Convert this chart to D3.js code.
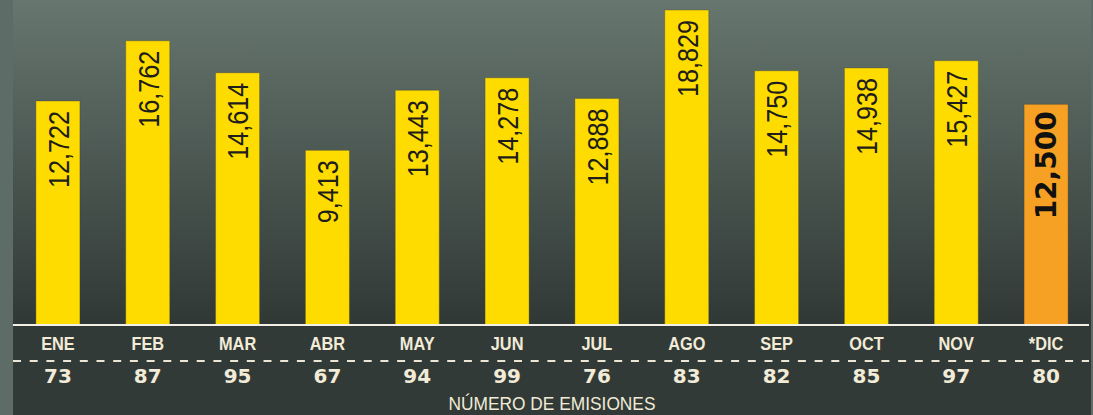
<!DOCTYPE html>
<html><head><meta charset="utf-8">
<script src="https://cdn.jsdelivr.net/npm/d3@7"></script>
<style>html,body{margin:0;padding:0;background:#5e6c67;}svg{display:block;}</style>
</head><body>
<svg id="chart" width="1093" height="415"></svg>
<script>
const months = ["ENE","FEB","MAR","ABR","MAY","JUN","JUL","AGO","SEP","OCT","NOV","*DIC"];
const emisiones = [12722,16762,14614,9413,13443,14278,12888,18829,14750,14938,15427,12500];
const numeroEmisiones = [73,87,95,67,94,99,76,83,82,85,97,80];
const estimado = [false,false,false,false,false,false,false,false,false,false,false,true];
const axisTitle = "NÚMERO DE EMISIONES";

const W = 1093, H = 415;
const left = 13, right = 1091, base = 325;
const svg = d3.select("#chart");
const defs = svg.append("defs");
const g = defs.append("linearGradient").attr("id","bg").attr("x1",0).attr("y1",0).attr("x2",0).attr("y2",1);
g.append("stop").attr("offset","0%").attr("stop-color","#67766f");
g.append("stop").attr("offset","100%").attr("stop-color","#303835");

svg.append("rect").attr("x",0).attr("y",0).attr("width",W).attr("height",H).attr("fill","#5e6c67");
svg.append("rect").attr("x",left).attr("y",0).attr("width",right-left).attr("height",base).attr("fill","url(#bg)");
svg.append("rect").attr("x",left).attr("y",base).attr("width",right-left).attr("height",H-base).attr("fill","#323a37");

const x = d3.scaleBand().domain(months).range([left,right]).paddingInner(0.51).paddingOuter(0.255);
const y = d3.scaleLinear().domain([-2310,18829]).range([base,10]);
const fmt = d3.format(",");

const data = months.map((m,i)=>({m, v:emisiones[i], n:numeroEmisiones[i], est:estimado[i]}));

svg.append("g").selectAll("rect").data(data).join("rect")
  .attr("x",d=>x(d.m)).attr("width",x.bandwidth())
  .attr("y",d=>y(d.v)).attr("height",d=>base-y(d.v))
  .attr("fill",d=>d.est?"#f6a024":"#ffdc00")
  .attr("stroke","rgba(70,70,50,0.35)").attr("stroke-width",1);

svg.append("g").selectAll("text").data(data).join("text")
  .attr("transform",d=>`translate(${x(d.m)+x.bandwidth()/2},${y(d.v)+(d.est?7:10)}) rotate(-90)` + (d.est?"":" scale(0.84,1)"))
  .attr("text-anchor","end").attr("dy","0.36em")
  .attr("font-family",d=>d.est?"DejaVu Sans":"Liberation Sans")
  .attr("font-weight",d=>d.est?"bold":"normal")
  .attr("font-size",d=>d.est?28:30)
  .attr("fill",d=>d.est?"#111":"#1e1e1a")
  .text(d=>fmt(d.v));

// baseline
svg.append("line").attr("x1",left).attr("x2",right-2).attr("y1",base).attr("y2",base)
  .attr("stroke","#f1efe6").attr("stroke-width",2);
// dashed separator
svg.append("line").attr("x1",left).attr("x2",right-2).attr("y1",361).attr("y2",361)
  .attr("stroke","#ece6d4").attr("stroke-width",2).attr("stroke-dasharray","8,8.7");

const xAxis = d3.axisBottom(x).tickSize(0).tickPadding(0);
const ax = svg.append("g").attr("transform",`translate(0,${base})`).call(xAxis);
ax.select(".domain").remove();
ax.selectAll("text").attr("y",25).attr("dy",0)
  .attr("transform","scale(0.86,1)")
  .attr("font-family","Liberation Sans").attr("font-weight","bold")
  .attr("font-size",19).attr("fill","#f1ebd8");

svg.append("g").selectAll("text").data(data).join("text")
  .attr("x",d=>x(d.m)+x.bandwidth()/2).attr("y",383)
  .attr("text-anchor","middle")
  .attr("font-family","DejaVu Sans").attr("font-weight","bold")
  .attr("font-size",20).attr("fill","#f1ebd8")
  .text(d=>d.n);

svg.append("text").attr("x",(x("JUN")+x("JUL"))/2+x.bandwidth()/2).attr("y",410)
  .attr("text-anchor","middle").attr("font-family","Liberation Sans")
  .attr("font-size",19).attr("fill","#f1ebd8")
  .attr("textLength",207).attr("lengthAdjust","spacingAndGlyphs")
  .text(axisTitle);
</script>
</body></html>
